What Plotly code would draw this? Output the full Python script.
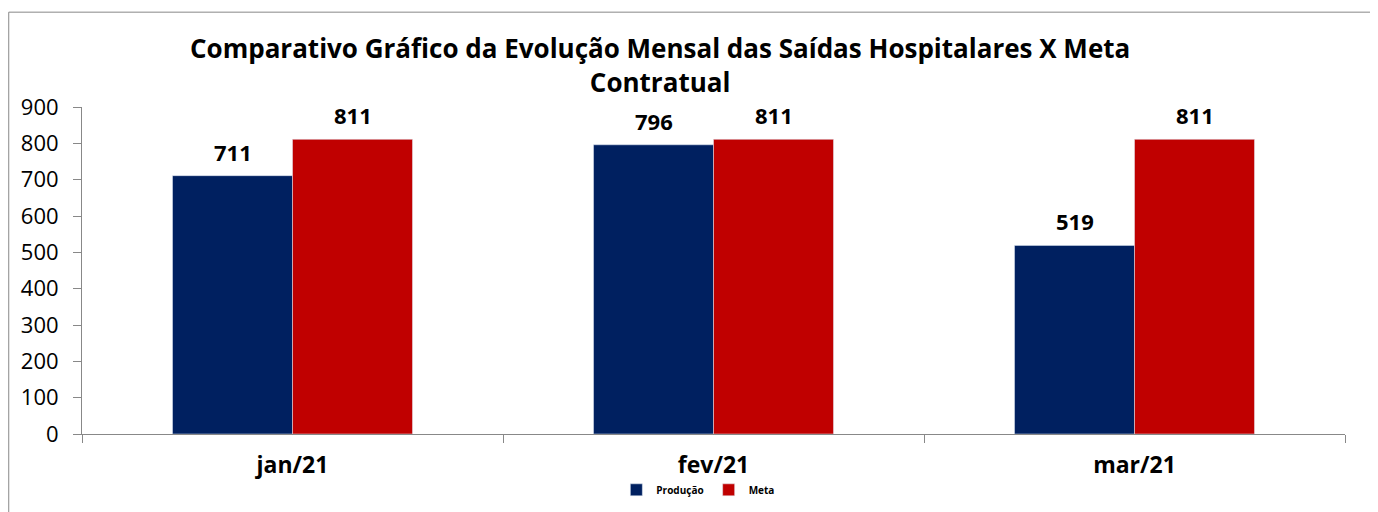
import plotly.graph_objects as go

meses = ["jan/21", "fev/21", "mar/21"]
producao = [711, 796, 519]
meta = [811, 811, 811]

FONTE = "Open Sans"

fig = go.Figure()
fig.add_trace(go.Bar(x=meses, y=producao, name="Produção", marker_color="#002060"))
fig.add_trace(go.Bar(x=meses, y=meta, name="Meta", marker_color="#C00000"))

# rotulos de dados acima das barras (barras de 120px, deslocadas +-60px do centro)
for serie, dx in [(producao, -60), (meta, 60)]:
    for m, v in zip(meses, serie):
        fig.add_annotation(x=m, y=v, text="<b>%d</b>" % v, showarrow=False,
                           xshift=dx, yshift=24, yanchor="middle",
                           font=dict(family=FONTE, size=22, color="black"))

# a pagina tem margem de 8px no body
fig.update_layout(
    width=1370, height=504,
    margin=dict(l=74, r=33, t=99, b=78),
    paper_bgcolor="white", plot_bgcolor="white",
    barmode="group", bargap=0.43, bargroupgap=0,
    font=dict(family=FONTE, color="black"),
    title=dict(text="<b>Comparativo Gráfico da Evolução Mensal das Saídas Hospitalares X Meta<br>Contratual</b>",
               x=0.476, xanchor="center", y=0.90, yanchor="top",
               font=dict(family=FONTE, size=26, color="black")),
    legend=dict(orientation="h", x=0.488, xanchor="center", yref="container", y=0.044,
                yanchor="middle", font=dict(size=10, weight="bold"), itemwidth=30),
    showlegend=True,
)
fig.update_yaxes(range=[0, 900], dtick=100, showgrid=False, showline=True, automargin=False,
                 linecolor="#888888", ticks="outside", ticklen=8, tickcolor="#888888",
                 ticklabelstandoff=10, tickfont=dict(size=22))
fig.update_xaxes(showgrid=False, showline=True, automargin=False, linecolor="#888888",
                 ticks="outside", ticklen=8, tickcolor="#888888", tickson="boundaries",
                 ticklabelstandoff=10, tickfont=dict(size=23, weight="bold"))

fig.add_shape(type="rect", xref="paper", yref="paper",
              x0=-0.058, x1=1.05, y0=-0.3, y1=1.29,
              line=dict(color="#888888", width=1), fillcolor="rgba(0,0,0,0)")

fig.write_html("out.html")
